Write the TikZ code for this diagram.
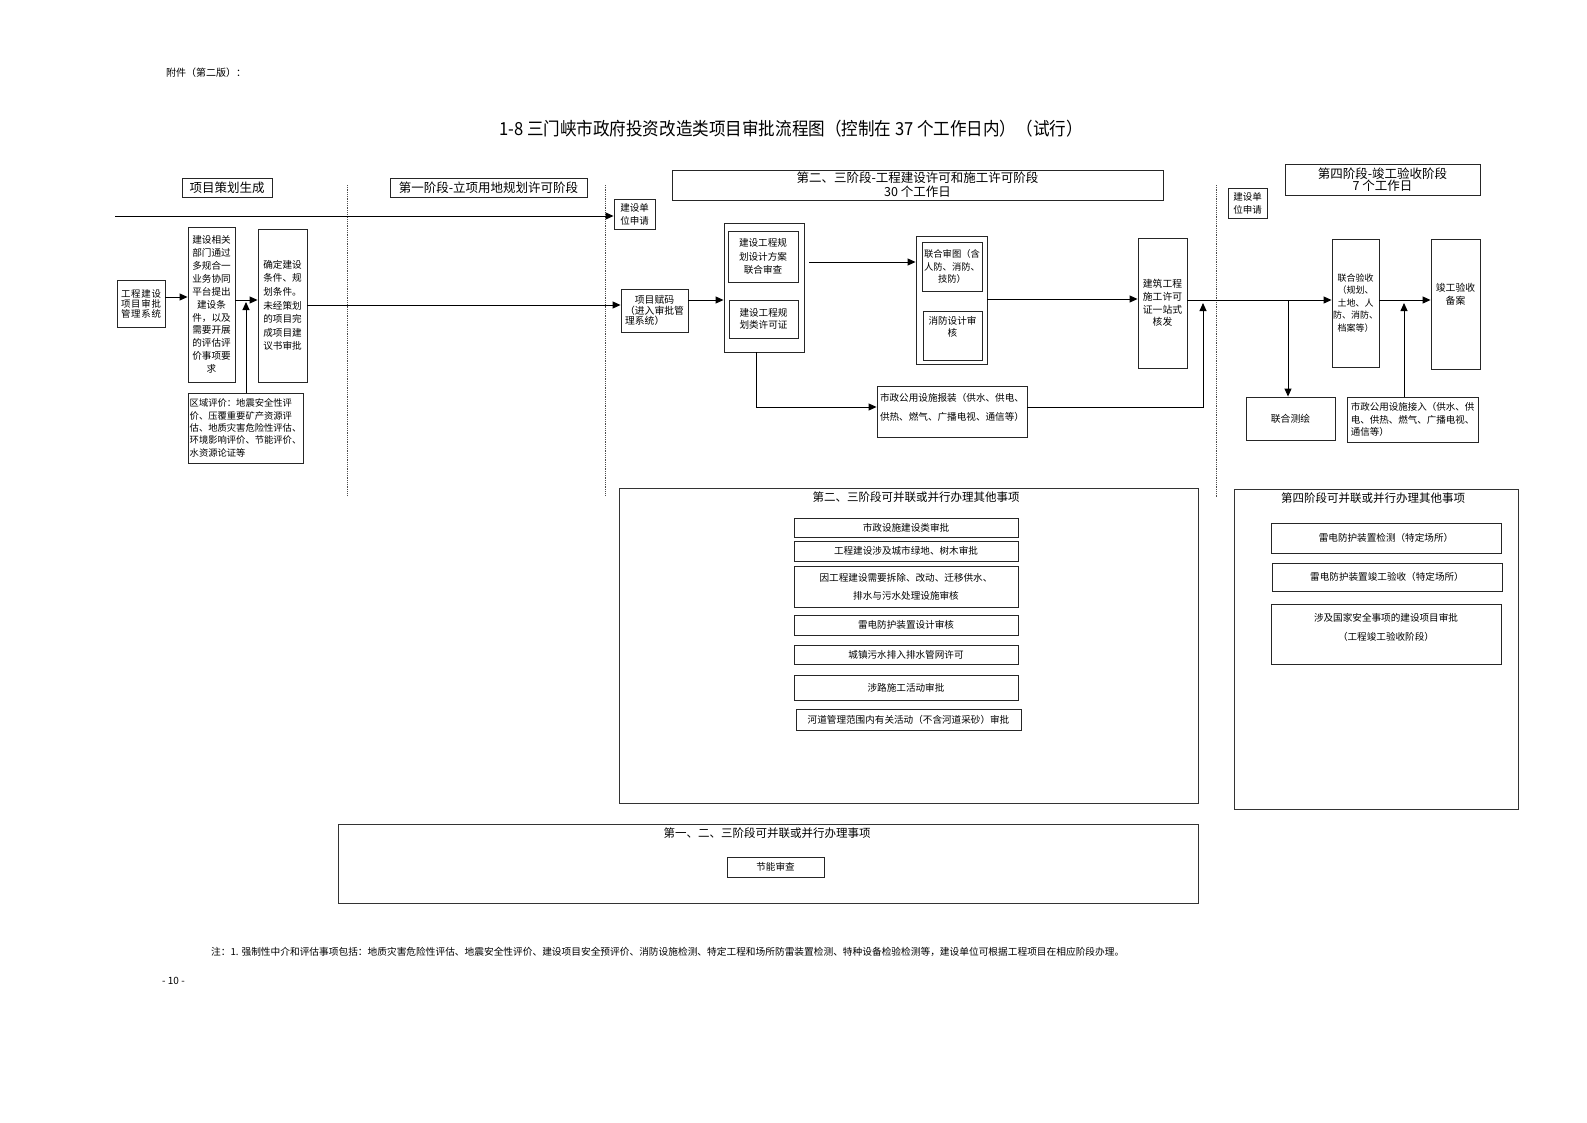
\documentclass[tikz,border=0pt]{standalone}
\usepackage{fontspec}
\usepackage{graphicx}
\setmainfont{Noto Sans CJK SC}
\newfontfamily\cjksp[LetterSpace=8]{Noto Sans CJK SC}
\usetikzlibrary{arrows.meta}
\newcommand\rbx[7]{\node[#1, minimum width={(#5)-(#3)}, minimum height={(#6)-(#4)}] (#2) at ({((#3)+(#5))/2},{((#4)+(#6))/2}) {#7};}
\begin{document}
\begin{tikzpicture}[x=1pt,y=-1pt,
  bx/.style={draw=black!85, line width=0.9pt, inner sep=0pt, align=center, font=\fontsize{9.5}{12.5}\selectfont},
  hd/.style={draw=black!85, line width=0.9pt, inner sep=0pt, align=center, font=\fontsize{12.5}{13}\selectfont},
  panel/.style={draw=black!80, line width=1pt, inner sep=0pt},
  it/.style={bx, font=\fontsize{9.6}{18}\selectfont},
  plain/.style={inner sep=0pt, align=center},
  arr/.style={line width=0.9pt, -{Triangle[length=8pt,width=7pt]}},
  ln/.style={line width=0.9pt},
  dots/.style={densely dotted, line width=0.8pt, black!70}]
\fill[white] (0,0) rectangle (1587,1122);
\useasboundingbox (0,0) rectangle (1587,1122);

% header and title
\node[plain, anchor=west, font=\fontsize{10}{10}\selectfont] (att) at (166,73) {附件（第二版）：};
\node[plain] (title) at (791,129) {\scalebox{0.92}[1]{\fontsize{18}{18}\selectfont 1-8 三门峡市政府投资改造类项目审批流程图（控制在 37 个工作日内）（试行）}};

% stage headings
\rbx{hd}{hd0}{182}{178}{272}{197}{项目策划生成}
\rbx{hd}{hd1}{390}{178}{587}{197}{第一阶段-立项用地规划许可阶段}
\rbx{hd,font=\fontsize{12.5}{14}\selectfont}{hd23}{672}{170}{1163}{200}{第二、三阶段-工程建设许可和施工许可阶段\\30 个工作日}
\rbx{hd,font=\fontsize{12.5}{12}\selectfont}{hd4}{1285}{164}{1480}{195}{第四阶段-竣工验收阶段\\7 个工作日}

% stage separators
\draw[dots] (347,185) -- (347,495);
\draw[dots] (605,185) -- (605,495);
\draw[dots] (1216,185) -- (1216,498);

% planning stage
\rbx{bx,font=\cjksp\fontsize{9.4}{10}\selectfont}{A}{117}{280}{165}{327}{工程建设\\项目审批\\管理系统}
\rbx{bx,font=\fontsize{9.6}{12.9}\selectfont}{B}{188}{227}{235}{382}{建设相关\\部门通过\\多规合一\\业务协同\\平台提出\\建设条\\件，以及\\需要开展\\的评估评\\价事项要\\求}
\rbx{bx,align=left,font=\fontsize{9.6}{13.6}\selectfont}{C}{258}{229}{307}{382}{确定建设\\条件、规\\划条件。\\未经策划\\的项目完\\成项目建\\议书审批}
\rbx{bx,align=left,font=\fontsize{9.3}{12.3}\selectfont}{D}{188}{393}{303}{463}{区域评价：地震安全性评\\价、压覆重要矿产资源评\\估、地质灾害危险性评估、\\环境影响评价、节能评价、\\水资源论证等}

% stage 1
\rbx{bx,font=\fontsize{9.5}{13}\selectfont}{sq1}{614}{199}{655}{229}{建设单\\位申请}
\rbx{bx,align=left,font=\fontsize{9.8}{10.5}\selectfont}{code}{621}{289}{688}{332}{\hspace*{1em}项目赋码\\（进入审批管\\理系统）}

% stage 2-3
\rbx{bx}{E}{724}{223}{804}{352}{}
\rbx{bx,font=\fontsize{9.6}{13.8}\selectfont}{E1}{728}{231}{798}{282}{建设工程规\\划设计方案\\联合审查}
\rbx{bx,font=\fontsize{9.6}{12}\selectfont}{E2}{729}{300}{798}{338}{建设工程规\\划类许可证}
\rbx{bx}{F}{916}{236}{987}{364}{}
\rbx{bx,font=\fontsize{9.3}{12.5}\selectfont}{F1}{922}{242}{982}{291}{联合审图（含\\人防、消防、\\技防）}
\rbx{bx}{F2}{923}{311}{982}{360}{}
\node[plain, font=\fontsize{9.6}{12}\selectfont] (F2t) at ([yshift=8.5pt]F2.center) {消防设计审\\核};
\rbx{bx}{G}{877}{386}{1027}{437}{}
\node[plain, align=left, font=\fontsize{9.6}{19}\selectfont] (Gt) at ([yshift=4pt]G.center) {市政公用设施报装（供水、供电、\\供热、燃气、广播电视、通信等）};
\rbx{bx,font=\fontsize{9.8}{12.7}\selectfont}{H}{1138}{238}{1187}{368}{建筑工程\\施工许可\\证一站式\\核发}

% stage 4
\rbx{bx,font=\fontsize{9.5}{13}\selectfont}{sq2}{1228}{188}{1267}{218}{建设单\\位申请}
\rbx{bx,font=\fontsize{9.8}{12}\selectfont}{M}{1246}{397}{1335}{440}{联合测绘}
\rbx{bx,font=\fontsize{9}{12.5}\selectfont}{J}{1332}{239}{1379}{367}{联合验收\\（规划、\\土地、人\\防、消防、\\档案等）}
\rbx{bx}{K}{1431}{239}{1480}{369}{}
\node[plain, font=\fontsize{9.8}{13}\selectfont] (Kt) at ([yshift=10pt]K.center) {竣工验收\\备案};
\rbx{bx,align=left,font=\fontsize{9.5}{12.5}\selectfont}{L}{1347}{397}{1478}{442}{市政公用设施接入（供水、供\\电、供热、燃气、广播电视、\\通信等）}

% connectors
\coordinate (tl) at (115,216);
\draw[arr] (tl) -- (sq1.west |- tl);
\draw[arr] (A.east |- 0,297) -- (B.west |- 0,297);
\draw[arr] (B.east |- 0,300) -- (C.west |- 0,300);
\coordinate (dup) at (246,302);
\draw[arr] (D.north -| dup) -- (dup);
\draw[arr] (C.east |- 0,305) -- (code.west |- 0,305);
\draw[arr] (code.east |- 0,300) -- (E.west |- 0,300);
\draw[arr] ([xshift=5pt]E.east |- 0,262) -- (F.west |- 0,262);
\draw[arr] (F.east |- 0,299) -- (H.west |- 0,299);
\draw[arr] (E.south -| 756,0) |- (G.west |- 0,407);
\coordinate (gup) at (1203,303);
\draw[arr] (G.east |- 0,407) -| (gup);
\draw[arr] (H.east |- 0,300) -- (J.west |- 0,300);
\coordinate (br) at (1288,300);
\draw[arr] (br) -- (M.north -| br);
\draw[arr] (J.east |- 0,300) -- (K.west |- 0,300);
\coordinate (lup) at (1404,303);
\draw[arr] (L.north -| lup) -- (lup);

% parallel panels
\rbx{panel}{P23}{619}{488}{1198}{803}{}
\node[plain, font=\fontsize{11.5}{12}\selectfont] (P23t) at (916,497) {第二、三阶段可并联或并行办理其他事项};
\rbx{it}{i1}{794}{518}{1018}{537}{市政设施建设类审批}
\rbx{it}{i2}{794}{541}{1018}{561}{工程建设涉及城市绿地、树木审批}
\rbx{it}{i3}{794}{566}{1018}{607}{因工程建设需要拆除、改动、迁移供水、\\排水与污水处理设施审核}
\rbx{it}{i4}{794}{615}{1018}{635}{雷电防护装置设计审核}
\rbx{it}{i5}{794}{645}{1018}{664}{城镇污水排入排水管网许可}
\rbx{it}{i6}{794}{675}{1018}{700}{涉路施工活动审批}
\rbx{it}{i7}{796}{709}{1021}{730}{河道管理范围内有关活动（不含河道采砂）审批}

\rbx{panel}{P4}{1234}{489}{1518}{809}{}
\node[plain, font=\fontsize{11.5}{12}\selectfont] (P4t) at (1373,498) {第四阶段可并联或并行办理其他事项};
\rbx{it}{r1}{1271}{523}{1501}{553}{雷电防护装置检测（特定场所）}
\rbx{it}{r2}{1272}{563}{1502}{591}{雷电防护装置竣工验收（特定场所）}
\rbx{it}{r3}{1271}{604}{1501}{664}{}
\node[plain, font=\fontsize{9.6}{19}\selectfont] (r3t) at ([yshift=6.5pt]r3.center) {涉及国家安全事项的建设项目审批\\（工程竣工验收阶段）};

\rbx{panel}{P123}{338}{824}{1198}{903}{}
\node[plain, font=\fontsize{11.5}{12}\selectfont] (P123t) at (767,833) {第一、二、三阶段可并联或并行办理事项};
\rbx{it}{jn}{727}{857}{824}{877}{节能审查}

% note and page number
\node[plain, anchor=west, font=\fontsize{9.7}{10}\selectfont] (note) at (211,952) {注：1. 强制性中介和评估事项包括：地质灾害危险性评估、地震安全性评价、建设项目安全预评价、消防设施检测、特定工程和场所防雷装置检测、特种设备检验检测等，建设单位可根据工程项目在相应阶段办理。};
\node[plain, anchor=west, font=\fontsize{10}{10}\selectfont] (pg) at (162,981) {- 10 -};
\end{tikzpicture}
\end{document}
